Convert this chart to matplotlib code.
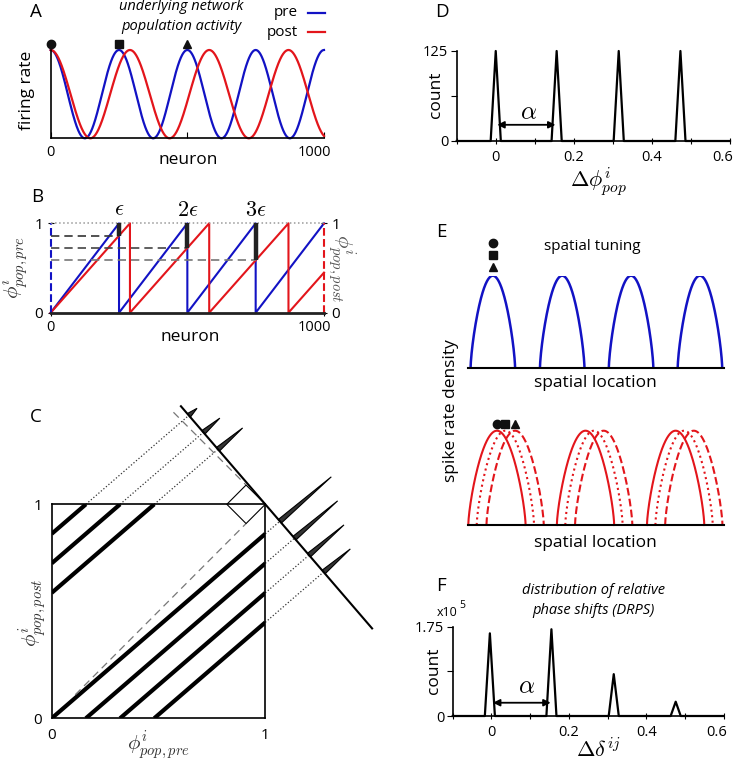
import numpy as np
import matplotlib
matplotlib.use('Agg')
import matplotlib.pyplot as plt
from matplotlib.lines import Line2D
from matplotlib.patches import Polygon
from matplotlib.transforms import ScaledTranslation

plt.rcParams['font.family'] = ['Open Sans', 'DejaVu Sans']
plt.rcParams['mathtext.fontset'] = 'cm'
plt.rcParams['axes.linewidth'] = 1.2

# ---- data ----
n_neurons = 1000
period_pre = 250      # neurons per population phase cycle (pre)
period_post = 290     # neurons per population phase cycle (post)
a_marker_neurons = [0, 250, 500]
marker_shapes = ['o', 's', '^']

peak_pos_d = [0.0, 0.156, 0.315, 0.473]
peak_count_d = [125, 125, 125, 125]
peak_pos_f = [-0.004, 0.155, 0.316, 0.476]
peak_count_f = [1.62, 1.70, 0.82, 0.28]   # x10^5
peak_halfwidth = 0.013
alpha_span = [0.004, 0.153]

e_pre_centers = [0.097, 0.368, 0.637, 0.906]
e_pre_halfwidth = 0.087
e_post_centers = [0.113, 0.459, 0.811]
e_post_halfwidth = 0.112
e_post_shifts = [0.0, 0.033, 0.071]
e_post_styles = ['-', ':', '--']

BLUE = '#1212c4'
RED = '#e3151b'
W, H = 734, 764

fig = plt.figure(figsize=(W / 100, H / 100), dpi=100)


def box(x0, y0, x1, y1):
    # axes placed by pixel box (top-left origin)
    return fig.add_axes([x0 / W, 1 - y1 / H, (x1 - x0) / W, (y1 - y0) / H])


def txt(x, y, s, **kw):
    kw.setdefault('ha', 'center')
    kw.setdefault('va', 'center')
    fig.text(x / W, 1 - y / H, s, **kw)


def fig_line(x0, x1, y, **kw):
    fig.add_artist(Line2D([x0 / W, x1 / W], [1 - y / H] * 2,
                          transform=fig.transFigure, **kw))


def shift_ticklabel(ax, label, dx):
    for lbl in ax.get_xticklabels():
        if lbl.get_text() == label:
            lbl.set_transform(lbl.get_transform() +
                              ScaledTranslation(dx / 72, 0, fig.dpi_scale_trans))


def sawtooth(period):
    xs, ys = [], []
    s = 0
    while s < n_neurons:
        e = min(s + period, n_neurons)
        xs += [s, e]
        ys += [0, (e - s) / period]
        s += period
    return xs, ys


def arch(u):
    return np.clip(np.cos(np.pi * u / 2), 0, None) ** 0.7


def peak_line(pos, counts, hw):
    xs, ys = [-0.1], [0]
    for p, c in zip(pos, counts):
        xs += [p - hw, p, p + hw]
        ys += [0, c, 0]
    xs.append(0.6)
    ys.append(0)
    return xs, ys


# ---------------- A ----------------
ax = box(50.7, 50, 324, 138.3)
x = np.linspace(0, n_neurons, 1001)
ax.plot(x, (1 + np.cos(2 * np.pi * x / period_pre)) / 2, color=BLUE, lw=1.6, clip_on=False)
ax.plot(x, (1 + np.cos(2 * np.pi * x / period_post)) / 2, color=RED, lw=1.6, clip_on=False)
for xn, m in zip(a_marker_neurons, marker_shapes):
    ax.plot(xn, 1.07, marker=m, color='#111', ms=6, clip_on=False)
ax.set_xlim(0, n_neurons)
ax.set_ylim(0, 1)
ax.spines[['top', 'right']].set_visible(False)
ax.set_yticks([])
ax.set_xticks([0, 500, 1000])
ax.set_xticklabels(['0', '', '1000'], fontsize=10.5)
ax.tick_params(axis='x', direction='in', length=4, pad=5)
shift_ticklabel(ax, '1000', -7)

txt(36, 12, 'A', fontsize=13.5)
txt(181, 7, 'underlying network', fontsize=10.5, style='italic')
txt(181, 27, 'population activity', fontsize=10.5, style='italic')
txt(298, 13, 'pre', fontsize=11, ha='right')
txt(298, 32, 'post', fontsize=11, ha='right')
fig_line(308, 325, 13, color=BLUE, lw=1.6)
fig_line(308, 325, 32, color=RED, lw=1.6)
txt(27, 90, 'firing rate', fontsize=12.5, rotation=90)
txt(188, 160, 'neuron', fontsize=12.5)

# ---------------- B ----------------
ax = box(50.7, 223.3, 324, 312.7)
xs, ys = sawtooth(period_pre)
ax.plot(xs, ys, color=BLUE, lw=1.5, clip_on=False)
xs, ys = sawtooth(period_post)
ax.plot(xs, ys, color=RED, lw=1.5, clip_on=False)
ax.plot([0, 0], [0, 1], color=BLUE, ls='--', lw=1.5, clip_on=False)
ax.plot([n_neurons, n_neurons], [0, 1], color=RED, ls='--', lw=1.5, clip_on=False)
ax.plot([0, n_neurons], [1, 1], color='#999', ls=':', lw=1.1, clip_on=False)
dash_greys = ['#333', '#444', '#777']
for k in range(1, 4):
    xe = k * period_pre
    ye = (xe % period_post) / period_post
    ax.plot([0, xe], [ye, ye], color=dash_greys[k - 1], ls=(0, (5, 3)), lw=1.2)
    ax.plot([xe, xe], [ye, 1], color='#222', lw=3.2, solid_capstyle='butt', clip_on=False)
    ax.text(xe, 1.03, r'$\epsilon$' if k == 1 else r'$%d\epsilon$' % k,
            fontsize=16, ha='center', va='bottom')
ax.set_xlim(0, n_neurons)
ax.set_ylim(0, 1)
for side in ['top', 'left', 'right']:
    ax.spines[side].set_visible(False)
ax.spines['bottom'].set_color('#222')
ax.spines['bottom'].set_linewidth(2)
ax.set_xticks([0, 1000])
ax.set_xticklabels(['0', '1000'], fontsize=10.5)
ax.set_yticks([0, 1])
ax.set_yticklabels(['0', '1'], fontsize=11)
ax.tick_params(axis='both', direction='inout', length=5, pad=3)
ax.tick_params(axis='y', right=True, labelright=True)
shift_ticklabel(ax, '1000', -7)

txt(37.5, 197, 'B', fontsize=13.5)
txt(15, 268, r'$\phi^i_{pop,pre}$', fontsize=15, rotation=90, color='#333')
txt(341, 268, r'$\phi^i_{pop,post}$', fontsize=15, rotation=-90, color='#555')
txt(190, 337, 'neuron', fontsize=12.5)

# ---------------- C ----------------
ax = box(51.7, 504.3, 265.3, 718.3)
slope = period_pre / period_post
u_dir = np.array([1.0, slope]) / np.hypot(1.0, slope)
v_dir = np.array([slope, -1.0]) / np.hypot(1.0, slope)
corner = np.array([1.0, 1.0])
breaks = sorted(set(list(range(0, n_neurons + 1, period_pre)) +
                    list(range(0, n_neurons + 1, period_post)) + [n_neurons]))
for a, b in zip(breaks[:-1], breaks[1:]):
    p0 = (a % period_pre) / period_pre
    q0 = (a % period_post) / period_post
    p1 = p0 + (b - a) / period_pre
    q1 = q0 + (b - a) / period_post
    ax.plot([p0, p1], [q0, q1], color='k', lw=3, solid_capstyle='butt')
    end = np.array([p1, q1])
    hit = end + np.dot(corner - end, u_dir) * u_dir
    ax.plot([end[0], hit[0]], [end[1], hit[1]], color='#333', ls=':', lw=0.9, clip_on=False)
    tip = hit + 0.318 * (b - a) / period_pre * u_dir
    ax.add_patch(Polygon([hit + 0.011 * v_dir, tip, hit - 0.011 * v_dir], closed=True,
                         fc='#333', ec='k', lw=0.8, clip_on=False))
axis_x = np.array([0.605, 1.5])
ax.plot(axis_x, 1 - (axis_x - 1) / slope, color='k', lw=1.5, clip_on=False)
ax.plot([0.11, 0.91], [0.11, 0.91], color='#777', ls=(0, (6, 4)), lw=0.9)
ax.plot([0.57, 0.91], [1.43, 1.09], color='#777', ls=(0, (6, 4)), lw=0.9, clip_on=False)
ax.plot([1, 0.91, 0.82, 0.91, 1], [1, 0.91, 1, 1.09, 1], color='k', lw=0.8, clip_on=False)
ax.set_xlim(0, 1)
ax.set_ylim(0, 1)
ax.set_xticks([0, 1])
ax.set_yticks([0, 1])
ax.tick_params(length=0, labelsize=11, pad=7)

txt(35.5, 416.7, 'C', fontsize=13.5)
txt(33, 613, r'$\phi^i_{pop,post}$', fontsize=15, rotation=90, color='#333')
txt(158, 746, r'$\phi^i_{pop,pre}$', fontsize=15, color='#333')

# ---------------- D ----------------
ax = box(456.7, 51, 730, 141)
xs, ys = peak_line(peak_pos_d, peak_count_d, peak_halfwidth)
ax.plot(xs, ys, color='k', lw=1.6, clip_on=False)
ax.annotate('', xy=(alpha_span[0], 22.5), xytext=(alpha_span[1], 22.5),
            arrowprops=dict(arrowstyle='<|-|>', color='k', lw=1.3,
                            mutation_scale=10, shrinkA=0, shrinkB=0))
ax.text(0.085, 40, r'$\alpha$', fontsize=18, ha='center', va='center')
ax.set_xlim(-0.1, 0.6)
ax.set_ylim(0, 125)
ax.spines[['top', 'right']].set_visible(False)
ax.set_xticks(np.arange(-0.1, 0.61, 0.1))
ax.set_xticklabels(['', '0', '', '0.2', '', '0.4', '', '0.6'], fontsize=10.5)
ax.set_yticks([0, 62.5, 125])
ax.set_yticklabels(['0', '', '125'], fontsize=10.5)
ax.tick_params(axis='x', direction='inout', length=5, pad=4)
ax.tick_params(axis='y', direction='out', length=4, pad=2)
shift_ticklabel(ax, '0.6', -5)

txt(442, 11.7, 'D', fontsize=13.5)
txt(436, 95, 'count', fontsize=12.5, rotation=90)
txt(598, 182, r'$\Delta\phi^i_{pop}$', fontsize=16)

# ---------------- E ----------------
u = np.linspace(-1, 1, 301)
ax = box(468, 275.7, 724, 368)
for c in e_pre_centers:
    ax.plot(c + e_pre_halfwidth * u, arch(u), color=BLUE, lw=1.8)
for m, yy in zip(marker_shapes, [1.355, 1.225, 1.095]):
    ax.plot(e_pre_centers[0], yy, marker=m, color='#111', ms=6, clip_on=False)
ax.set_xlim(0, 1)
ax.set_ylim(0, 1)
ax.spines[['top', 'right', 'left']].set_visible(False)
ax.spines['bottom'].set_linewidth(1.5)
ax.set_xticks([])
ax.set_yticks([])

ax = box(468, 430.7, 724, 525)
for c in e_post_centers:
    for sh, st in zip(e_post_shifts, e_post_styles):
        ax.plot(c + sh + e_post_halfwidth * u, arch(u), color=RED, lw=1.5, ls=st,
                clip_on=False)
for m, sh in zip(marker_shapes, e_post_shifts):
    ax.plot(e_post_centers[0] + sh, 1.068, marker=m, color='#111', ms=6, clip_on=False)
ax.set_xlim(0, 1)
ax.set_ylim(0, 1)
ax.spines[['top', 'right', 'left']].set_visible(False)
ax.spines['bottom'].set_linewidth(1.5)
ax.set_xticks([])
ax.set_yticks([])

txt(441.7, 231.7, 'E', fontsize=13.5)
txt(592, 247, 'spatial tuning', fontsize=11)
txt(595, 383, 'spatial location', fontsize=12.5)
txt(595, 543, 'spatial location', fontsize=12.5)
txt(451, 411, 'spike rate density', fontsize=12.5, rotation=90)

# ---------------- F ----------------
ax = box(452.7, 626.7, 723.7, 716)
xs, ys = peak_line(peak_pos_f, peak_count_f, peak_halfwidth)
ax.plot(xs, ys, color='k', lw=1.6, clip_on=False)
ax.annotate('', xy=(alpha_span[0], 0.26), xytext=(alpha_span[1], 0.26),
            arrowprops=dict(arrowstyle='<|-|>', color='k', lw=1.3,
                            mutation_scale=10, shrinkA=0, shrinkB=0))
ax.text(0.09, 0.57, r'$\alpha$', fontsize=18, ha='center', va='center')
ax.set_xlim(-0.1, 0.6)
ax.set_ylim(0, 1.75)
ax.spines[['top', 'right']].set_visible(False)
ax.set_xticks(np.arange(-0.1, 0.61, 0.1))
ax.set_xticklabels(['', '0', '', '0.2', '', '0.4', '', '0.6'], fontsize=10.5)
ax.set_yticks([0, 0.875, 1.75])
ax.set_yticklabels(['0', '', '1.75'], fontsize=10.5)
ax.tick_params(axis='x', direction='inout', length=5, pad=4)
ax.tick_params(axis='y', direction='out', length=4, pad=2)
shift_ticklabel(ax, '0.6', -5)

txt(441, 586, 'F', fontsize=13.5)
txt(593, 591, 'distribution of relative', fontsize=10.5, style='italic')
txt(593, 611, 'phase shifts (DRPS)', fontsize=10.5, style='italic')
txt(447, 612, 'x10', fontsize=9)
txt(462, 605, '5', fontsize=7.5)
txt(434, 671, 'count', fontsize=12.5, rotation=90)
txt(598, 750, r'$\Delta\delta^{ij}$', fontsize=16)

fig.savefig('out.png', dpi=100)
